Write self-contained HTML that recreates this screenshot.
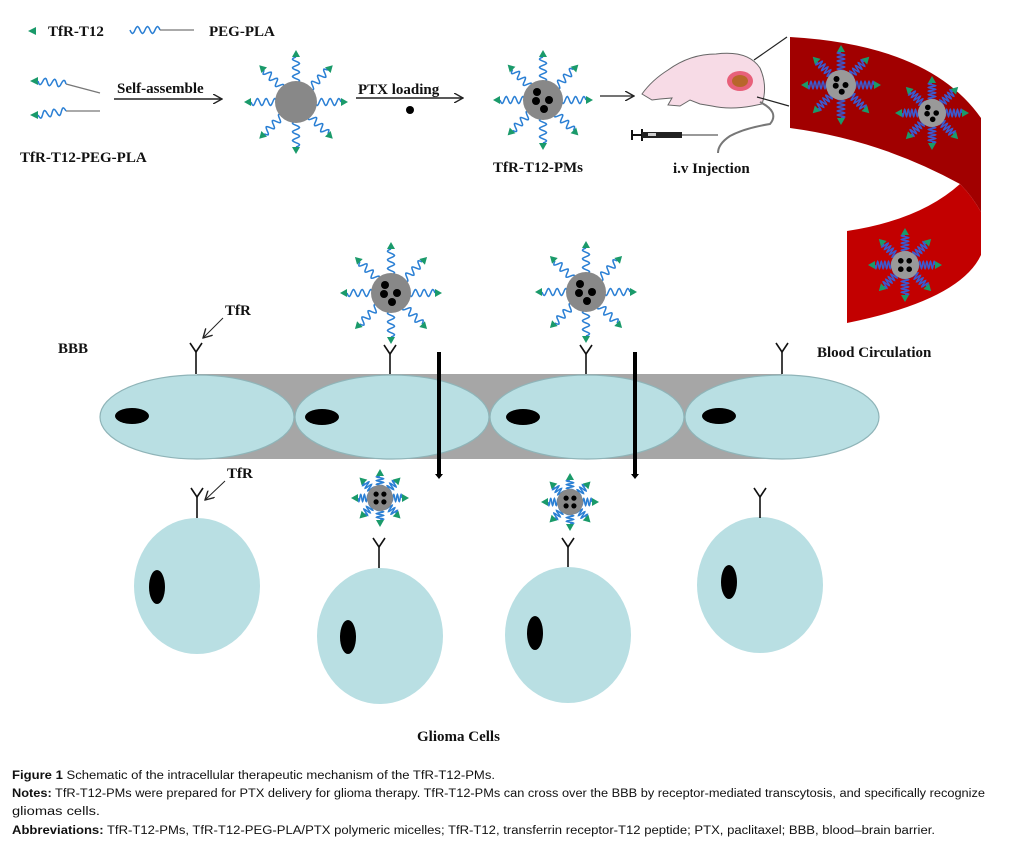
<!DOCTYPE html>
<html><head><meta charset="utf-8"><style>
html,body{margin:0;padding:0;background:#fff;}
svg{display:block;}
.t{font-family:"Liberation Serif",serif;font-weight:bold;font-size:15px;fill:#111;}
.c{font-family:"Liberation Sans",sans-serif;font-size:11.5px;fill:#111;}
.cb{font-weight:bold;}
</style></head><body>
<svg id="s" width="1018" height="857" viewBox="0 0 1018 857" xmlns="http://www.w3.org/2000/svg">
<defs>
<marker id="ah" markerWidth="10" markerHeight="10" refX="9" refY="5" orient="auto" markerUnits="userSpaceOnUse">
<path d="M0,0 L9,5 L0,10" fill="none" stroke="#222" stroke-width="1.4"/></marker>
</defs>
<polygon points="28,31 36,27 36,35" fill="#1a9a6a"/>
<text class="t" x="48" y="36">TfR-T12</text>
<polyline id="lw" points="" fill="none" stroke="#2a7fd4" stroke-width="1.5"/>
<line x1="160" y1="30" x2="194" y2="30" stroke="#777" stroke-width="1.3"/>
<text class="t" x="209" y="36">PEG-PLA</text>
<polygon points="30,81 38,77 38,85" fill="#1a9a6a"/>
<polygon points="30,115 38,111 38,119" fill="#1a9a6a"/>
<line x1="66" y1="84" x2="100" y2="93" stroke="#777" stroke-width="1.3"/>
<line x1="66" y1="111" x2="100" y2="111" stroke="#777" stroke-width="1.3"/>
<text class="t" x="20" y="162">TfR-T12-PEG-PLA</text>
<text class="t" x="117" y="93">Self-assemble</text>
<line x1="114" y1="99" x2="222" y2="99" stroke="#222" stroke-width="1.5" marker-end="url(#ah)"/>
<text class="t" x="358" y="94">PTX loading</text>
<line x1="356" y1="98" x2="463" y2="98" stroke="#222" stroke-width="1.5" marker-end="url(#ah)"/>
<circle cx="410" cy="110" r="4" fill="#000"/>
<text class="t" x="493" y="172">TfR-T12-PMs</text>
<line x1="600" y1="96" x2="634" y2="96" stroke="#222" stroke-width="1.2" marker-end="url(#ah)"/>
<path d="M642,94 Q652,80 668,70 Q690,54 716,54 Q748,50 760,68 Q768,86 762,104 L752,106 Q730,110 712,106 L700,104 L690,100 L680,106 L668,105 L672,98 L660,99 L652,100 Z" fill="#f7dbe6" stroke="#666" stroke-width="1"/>
<ellipse cx="740" cy="81" rx="13" ry="10" fill="#e8607a"/>
<ellipse cx="740" cy="81" rx="8" ry="6" fill="#b8662a"/>
<path d="M760,102 Q780,112 770,124 Q745,128 730,136 Q718,144 718,153" fill="none" stroke="#777" stroke-width="2"/>
<line x1="754" y1="60" x2="787" y2="37" stroke="#222" stroke-width="1.2"/>
<line x1="757" y1="97" x2="789" y2="106" stroke="#222" stroke-width="1.2"/>
<line x1="632" y1="130" x2="632" y2="140" stroke="#111" stroke-width="2"/>
<line x1="632" y1="135" x2="642" y2="135" stroke="#111" stroke-width="2"/>
<line x1="642" y1="129" x2="642" y2="141" stroke="#111" stroke-width="2"/>
<rect x="642" y="132" width="40" height="6" fill="#222"/>
<rect x="648" y="133" width="8" height="3" fill="#ccc"/>
<line x1="682" y1="135" x2="718" y2="135" stroke="#333" stroke-width="1"/>
<text class="t" x="673" y="173">i.v Injection</text>
<path d="M790,37 Q930,45 981,118 L981,212 Q972,196 960,184 Q880,140 790,128 Z" fill="#a10000"/>
<path d="M960,184 Q972,196 981,212 L981,255 Q960,300 847,323 L847,231 Q920,220 960,184 Z" fill="#c20000"/>
<text class="t" x="817" y="357">Blood Circulation</text>
<text class="t" x="58" y="353">BBB</text>
<rect x="197" y="374" width="585" height="85" fill="#a6a6a6"/>
<g fill="#b9dfe3" stroke="#8fb4b8" stroke-width="1.2">
<ellipse cx="197" cy="417" rx="97" ry="42"/>
<ellipse cx="392" cy="417" rx="97" ry="42"/>
<ellipse cx="587" cy="417" rx="97" ry="42"/>
<ellipse cx="782" cy="417" rx="97" ry="42"/>
</g>
<g fill="#000">
<ellipse cx="132" cy="416" rx="17" ry="8"/>
<ellipse cx="322" cy="417" rx="17" ry="8"/>
<ellipse cx="523" cy="417" rx="17" ry="8"/>
<ellipse cx="719" cy="416" rx="17" ry="8"/>
</g>
<g fill="#000">
<rect x="437" y="352" width="4" height="124"/><path d="M435,474 L443,474 L439,479 Z"/>
<rect x="633" y="352" width="4" height="124"/><path d="M631,474 L639,474 L635,479 Z"/>
</g>
<g fill="#b9dfe3">
<ellipse cx="197" cy="586" rx="63" ry="68"/>
<ellipse cx="380" cy="636" rx="63" ry="68"/>
<ellipse cx="568" cy="635" rx="63" ry="68"/>
<ellipse cx="760" cy="585" rx="63" ry="68"/>
</g>
<g fill="#000">
<ellipse cx="157" cy="587" rx="8" ry="17"/>
<ellipse cx="348" cy="637" rx="8" ry="17"/>
<ellipse cx="535" cy="633" rx="8" ry="17"/>
<ellipse cx="729" cy="582" rx="8" ry="17"/>
</g>
<g id="rec" fill="none" stroke="#111" stroke-width="1.6"></g>
<text class="t" x="225" y="315">TfR</text>
<line x1="223" y1="318" x2="203" y2="338" stroke="#222" stroke-width="1" marker-end="url(#ah)"/>
<text class="t" x="227" y="478">TfR</text>
<line x1="225" y1="481" x2="205" y2="500" stroke="#222" stroke-width="1" marker-end="url(#ah)"/>
<text class="t" x="417" y="741">Glioma Cells</text>
<g id="mic"></g>
<text class="c" x="12" y="779" textLength="483" lengthAdjust="spacingAndGlyphs"><tspan class="cb">Figure 1</tspan> Schematic of the intracellular therapeutic mechanism of the TfR-T12-PMs.</text>
<text class="c" x="12" y="797" textLength="973" lengthAdjust="spacingAndGlyphs"><tspan class="cb">Notes:</tspan> TfR-T12-PMs were prepared for PTX delivery for glioma therapy. TfR-T12-PMs can cross over the BBB by receptor-mediated transcytosis, and specifically recognize</text>
<text class="c" x="12" y="815" textLength="88" lengthAdjust="spacingAndGlyphs">gliomas cells.</text>
<text class="c" x="12" y="834" textLength="923" lengthAdjust="spacingAndGlyphs"><tspan class="cb">Abbreviations:</tspan> TfR-T12-PMs, TfR-T12-PEG-PLA/PTX polymeric micelles; TfR-T12, transferrin receptor-T12 peptide; PTX, paclitaxel; BBB, blood–brain barrier.</text>
</svg>
<script>
var NS="http://www.w3.org/2000/svg";
function el(t,a,p){var e=document.createElementNS(NS,t);for(var k in a)e.setAttribute(k,a[k]);(p||document.getElementById('mic')).appendChild(e);return e;}
function wave(x1,y1,x2,y2,amp,n){var dx=x2-x1,dy=y2-y1,L=Math.hypot(dx,dy),px=-dy/L,py=dx/L,pts=[],N=n*12;
for(var i=0;i<=N;i++){var t=i/N,s=amp*Math.sin(t*n*2*Math.PI);pts.push((x1+dx*t+px*s).toFixed(1)+","+(y1+dy*t+py*s).toFixed(1));}return pts.join(" ");}
function micelle(cx,cy,r,reach,drugs,col,bg,amp,n){
 for(var k=0;k<8;k++){var a=k*Math.PI/4,ux=Math.cos(a),uy=Math.sin(a);
  var tip=reach, base=tip-7;
  el('polyline',{points:wave(cx+ux*(r-2),cy+uy*(r-2),cx+ux*base,cy+uy*base,amp,n),fill:'none',stroke:col,'stroke-width':1.5});
  var px=-uy,py=ux,bx=cx+ux*base,by=cy+uy*base;
  el('polygon',{points:(cx+ux*tip)+","+(cy+uy*tip)+" "+(bx+px*4)+","+(by+py*4)+" "+(bx-px*4)+","+(by-py*4),fill:'#1a9a6a'});}
 el('circle',{cx:cx,cy:cy,r:r,fill:bg});
 drugs.forEach(function(d){el('circle',{cx:cx+d[0]*r,cy:cy+d[1]*r,r:r*0.2,fill:'#000'});});
}
var D3=[[-0.3,-0.4],[-0.35,0.05],[0.3,0],[0.05,0.45]];
var D4=[[-0.3,-0.3],[0.3,-0.3],[-0.3,0.3],[0.3,0.3]];
micelle(296,102,21,52,[],'#2a7fd4','#888',3.5,3);
micelle(543,100,20,50,D3,'#2a7fd4','#888',3.5,3);
micelle(391,293,20,51,D3,'#2a7fd4','#888',3.5,3);
micelle(586,292,20,51,D3,'#2a7fd4','#888',3.5,3);
micelle(380,498,13,29,D4,'#2a7fd4','#888',3.5,3);
micelle(570,502,13,29,D4,'#2a7fd4','#888',3.5,3);
micelle(841,85,15,40,D3,'#3a5ad0','#999',3.5,5);
micelle(932,113,14,37,D3,'#3a5ad0','#999',3.5,5);
micelle(905,265,14,37,D4,'#3a5ad0','#999',3.5,5);
document.getElementById('lw').setAttribute('points',wave(130,30,160,30,3.5,3));
el('polyline',{points:wave(38,81,66,84,3.5,3),fill:'none',stroke:'#2a7fd4','stroke-width':1.5});
el('polyline',{points:wave(38,115,66,111,3.5,3),fill:'none',stroke:'#2a7fd4','stroke-width':1.5});
var rec=document.getElementById('rec');
[[196,343,374],[390,345,374],[586,345,374],[782,343,374],[197,488,518],[760,488,518],[379,538,568],[568,538,567]].forEach(function(r){
 var x=r[0],y=r[1],y2=r[2],m=y+9;
 el('polyline',{points:(x-6)+","+y+" "+x+","+m+" "+(x+6)+","+y},rec);
 el('line',{x1:x,y1:m,x2:x,y2:y2},rec);});
</script>
</body></html>
